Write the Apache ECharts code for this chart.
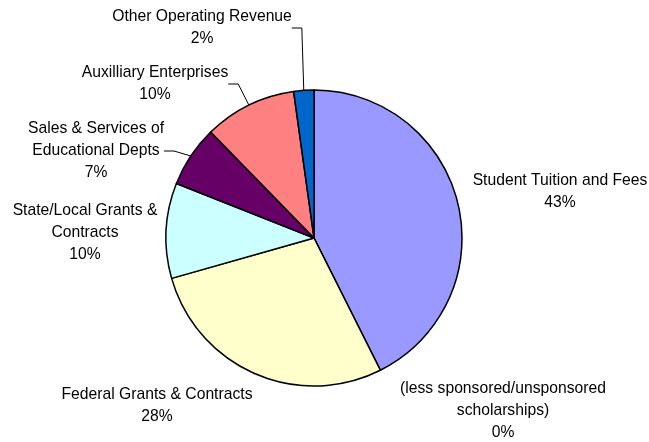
<!DOCTYPE html>
<html>
<head>
<meta charset="utf-8">
<script src="https://cdn.jsdelivr.net/npm/echarts@6/dist/echarts.min.js"></script>
<style>
  html, body { margin: 0; padding: 0; background: #fff; }
  #chart { width: 649px; height: 442px; }
</style>
</head>
<body>
<div id="chart"></div>
<script>
// Revenue sources, clockwise from 12 o'clock
const categories = [
  'Student Tuition and Fees',
  '(less sponsored/unsponsored\nscholarships)',
  'Federal Grants & Contracts',
  'State/Local Grants &\nContracts',
  'Sales & Services of\nEducational Depts',
  'Auxilliary Enterprises',
  'Other Operating Revenue'
]
const shares = [42.6, 0, 28.0, 10.4, 6.7, 10.1, 2.2]
const colors = ['#9999FF', '#993366', '#FFFFCC', '#CCFFFF', '#660066', '#FF8080', '#0066CC']

// where each label block sits (center), and whether it gets a leader line
const labelPos = [[560, 192], [503, 411], [157, 406], [85, 233], [96, 151], [155, 84], [202, 28]]
const showLine = [false, false, false, false, true, true, true]

const chart = echarts.init(document.getElementById('chart'))

const option = {
  animation: false,
  series: [
    {
      type: 'pie',
      center: [314, 238],
      radius: 148,
      startAngle: 90,
      clockwise: true,
      minShowLabelAngle: 0,
      itemStyle: {
        borderColor: '#000',
        borderWidth: 1.5
      },
      label: {
        show: true,
        position: 'outside',
        overflow: 'none',
        color: '#000',
        fontFamily: 'Liberation Sans, Arial, sans-serif',
        fontSize: 15.7,
        lineHeight: 22,
        align: 'center',
        formatter: function (p) {
          return p.name + '\n' + Math.round(p.percent) + '%'
        }
      },
      labelLine: {
        show: true,
        length: 10,
        length2: 10,
        lineStyle: { color: '#000', width: 1 }
      },
      labelLayout: function (params) {
        const pos = labelPos[params.dataIndex]
        return {
          x: pos[0],
          y: pos[1],
          align: 'center',
          verticalAlign: 'middle'
        }
      },
      data: categories.map((name, i) => ({
        name: name,
        value: shares[i],
        itemStyle: { color: colors[i] },
        labelLine: { show: showLine[i] }
      }))
    }
  ]
}

chart.setOption(option)
</script>
</body>
</html>
